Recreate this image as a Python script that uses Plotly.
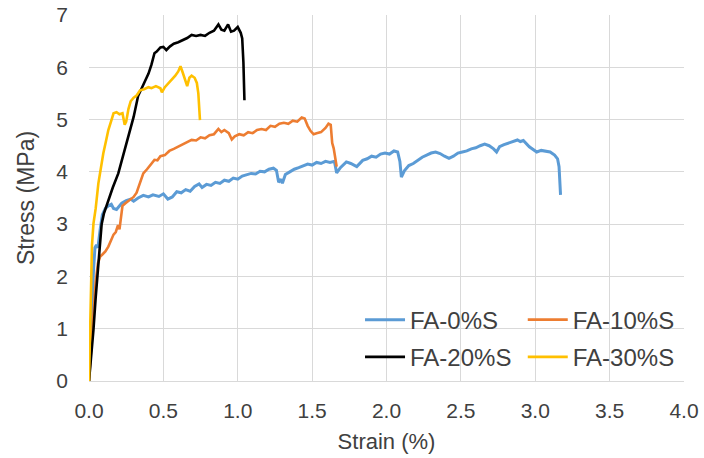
import plotly.graph_objects as go

# ---- data ----
fa0_strain = [0.000, 0.010, 0.020, 0.030, 0.040, 0.050, 0.060, 0.075, 0.090, 0.110, 0.130, 0.150, 0.165, 0.185,
              0.200, 0.220, 0.250, 0.280, 0.300, 0.330, 0.365, 0.400, 0.430, 0.470, 0.500, 0.530, 0.560, 0.590,
              0.620, 0.650, 0.680, 0.710, 0.740, 0.760, 0.790, 0.820, 0.850, 0.880, 0.910, 0.940, 0.970, 1.000,
              1.030, 1.060, 1.090, 1.120, 1.150, 1.180, 1.210, 1.240, 1.260, 1.275, 1.290, 1.300, 1.320, 1.350,
              1.380, 1.410, 1.440, 1.470, 1.500, 1.530, 1.560, 1.590, 1.620, 1.650, 1.665, 1.690, 1.730, 1.760,
              1.800, 1.840, 1.870, 1.900, 1.930, 1.960, 1.990, 2.020, 2.050, 2.075, 2.090, 2.100, 2.120, 2.150,
              2.180, 2.210, 2.240, 2.270, 2.300, 2.330, 2.360, 2.390, 2.420, 2.450, 2.480, 2.510, 2.540, 2.570,
              2.600, 2.630, 2.660, 2.690, 2.720, 2.740, 2.760, 2.790, 2.820, 2.850, 2.880, 2.900, 2.920, 2.960,
              2.990, 3.010, 3.040, 3.070, 3.100, 3.130, 3.150, 3.160, 3.165, 3.170]
fa0_stress = [0.00, 0.60, 1.40, 2.10, 2.55, 2.60, 2.55, 2.90, 3.18, 3.30, 3.35, 3.38, 3.30, 3.28,
              3.34, 3.40, 3.45, 3.48, 3.44, 3.50, 3.55, 3.52, 3.56, 3.53, 3.58, 3.48, 3.52, 3.62,
              3.60, 3.66, 3.63, 3.72, 3.77, 3.70, 3.76, 3.74, 3.80, 3.78, 3.84, 3.82, 3.88, 3.86,
              3.92, 3.95, 3.97, 3.96, 4.01, 4.00, 4.05, 4.07, 4.03, 3.80, 3.86, 3.78, 3.95, 4.00,
              4.05, 4.08, 4.12, 4.15, 4.13, 4.18, 4.16, 4.20, 4.18, 4.20, 3.98, 4.08, 4.19, 4.16,
              4.10, 4.22, 4.25, 4.30, 4.28, 4.34, 4.36, 4.34, 4.40, 4.38, 4.20, 3.90, 4.02, 4.12,
              4.16, 4.22, 4.28, 4.32, 4.36, 4.38, 4.35, 4.30, 4.26, 4.30, 4.36, 4.38, 4.40, 4.44,
              4.46, 4.50, 4.53, 4.50, 4.44, 4.38, 4.48, 4.52, 4.55, 4.57, 4.61, 4.58, 4.60, 4.48,
              4.42, 4.38, 4.41, 4.40, 4.38, 4.32, 4.25, 4.10, 3.85, 3.56]

fa10_strain = [0.000, 0.015, 0.030, 0.045, 0.060, 0.075, 0.090, 0.110, 0.130, 0.150, 0.165, 0.180, 0.195, 0.205,
               0.215, 0.225, 0.245, 0.270, 0.300, 0.320, 0.345, 0.365, 0.390, 0.420, 0.440, 0.460, 0.480, 0.510,
               0.540, 0.570, 0.600, 0.630, 0.660, 0.690, 0.720, 0.750, 0.780, 0.810, 0.840, 0.870, 0.890, 0.910,
               0.940, 0.960, 0.980, 1.010, 1.040, 1.070, 1.100, 1.130, 1.160, 1.190, 1.220, 1.250, 1.280, 1.310,
               1.340, 1.370, 1.400, 1.430, 1.450, 1.470, 1.490, 1.510, 1.530, 1.560, 1.590, 1.610, 1.625, 1.635,
               1.645, 1.655, 1.665]
fa10_stress = [0.00, 0.60, 1.30, 1.90, 2.25, 2.38, 2.42, 2.48, 2.57, 2.70, 2.80, 2.85, 2.98, 2.90,
               3.20, 3.35, 3.40, 3.45, 3.52, 3.60, 3.80, 3.97, 4.05, 4.15, 4.23, 4.22, 4.30, 4.32,
               4.40, 4.44, 4.48, 4.52, 4.56, 4.61, 4.60, 4.66, 4.64, 4.70, 4.72, 4.82, 4.76, 4.80,
               4.74, 4.62, 4.68, 4.72, 4.70, 4.76, 4.74, 4.80, 4.82, 4.80, 4.88, 4.86, 4.92, 4.94,
               4.92, 4.98, 4.96, 5.04, 5.02, 4.88, 4.78, 4.72, 4.74, 4.76, 4.84, 4.92, 4.90, 4.55,
               4.45, 4.30, 4.10]

fa20_strain = [0.000, 0.015, 0.030, 0.045, 0.063, 0.085, 0.100, 0.130, 0.160, 0.197, 0.230, 0.265, 0.300, 0.330,
               0.365, 0.400, 0.420, 0.440, 0.455, 0.480, 0.500, 0.520, 0.545, 0.570, 0.600, 0.630, 0.660, 0.690,
               0.720, 0.750, 0.780, 0.810, 0.840, 0.870, 0.890, 0.910, 0.935, 0.955, 0.975, 1.000, 1.020, 1.030,
               1.038, 1.045]
fa20_stress = [0.00, 0.45, 0.98, 1.60, 2.31, 3.00, 3.20, 3.46, 3.70, 3.97, 4.30, 4.70, 5.05, 5.45,
               5.65, 5.88, 6.05, 6.27, 6.30, 6.38, 6.39, 6.33, 6.40, 6.45, 6.48, 6.52, 6.56, 6.62,
               6.60, 6.62, 6.60, 6.66, 6.70, 6.82, 6.72, 6.70, 6.82, 6.68, 6.70, 6.77, 6.66, 6.55,
               6.10, 5.37]

fa30_strain = [0.000, 0.008, 0.015, 0.020, 0.030, 0.045, 0.063, 0.080, 0.096, 0.115, 0.130, 0.150, 0.165, 0.185,
               0.205, 0.225, 0.240, 0.250, 0.265, 0.280, 0.300, 0.320, 0.343, 0.370, 0.400, 0.420, 0.450, 0.480,
               0.490, 0.510, 0.530, 0.560, 0.580, 0.600, 0.615, 0.630, 0.650, 0.660, 0.675, 0.690, 0.710, 0.725,
               0.735, 0.742, 0.746]
fa30_stress = [0.00, 1.00, 2.00, 2.60, 3.01, 3.30, 3.78, 4.10, 4.35, 4.60, 4.80, 4.98, 5.12, 5.14,
               5.10, 5.12, 4.90, 4.96, 5.20, 5.35, 5.42, 5.46, 5.56, 5.58, 5.62, 5.60, 5.64, 5.60,
               5.52, 5.62, 5.68, 5.76, 5.84, 5.92, 6.02, 5.90, 5.72, 5.64, 5.80, 5.84, 5.80, 5.70,
               5.50, 5.20, 4.99]

series_names = ["FA-0%S", "FA-10%S", "FA-20%S", "FA-30%S"]
series_colors = ["#5B9BD5", "#ED7D31", "#000000", "#FFC000"]

x_ticks = [0.0, 0.5, 1.0, 1.5, 2.0, 2.5, 3.0, 3.5, 4.0]
x_tick_labels = ["0.0", "0.5", "1.0", "1.5", "2.0", "2.5", "3.0", "3.5", "4.0"]
y_ticks = [0, 1, 2, 3, 4, 5, 6, 7]

FONT = "Liberation Sans, Arial, sans-serif"
TXT = "#404040"

fig = go.Figure()
data = [(fa0_strain, fa0_stress, 3.0, "legend"),
        (fa10_strain, fa10_stress, 2.6, "legend2"),
        (fa20_strain, fa20_stress, 2.6, "legend"),
        (fa30_strain, fa30_stress, 2.6, "legend2")]
for i, (xs, ys, w, lg) in enumerate(data):
    fig.add_trace(go.Scatter(x=xs, y=ys, mode="lines", name=series_names[i],
                             line=dict(color=series_colors[i], width=w),
                             legend=lg, legendgroup=series_names[i]))

leg_common = dict(orientation="v", xanchor="left", yanchor="top",
                  bgcolor="rgba(0,0,0,0)", font=dict(family=FONT, size=24, color=TXT),
                  tracegroupgap=3, traceorder="grouped", itemwidth=40)

fig.update_layout(
    width=704, height=458,
    margin=dict(l=89, r=20, t=15, b=77),
    paper_bgcolor="white", plot_bgcolor="white",
    font=dict(family=FONT, color=TXT),
    legend=dict(x=0.4555, y=0.228, **leg_common),
    legend2=dict(x=0.729, y=0.228, **leg_common),
    xaxis=dict(range=[0, 4], tickvals=x_ticks, ticktext=x_tick_labels, automargin=False,
               showgrid=True, gridcolor="#D9D9D9", gridwidth=1,
               zeroline=False, showline=True, linecolor="#D9D9D9", linewidth=1,
               ticks="", tickfont=dict(family=FONT, size=21, color=TXT),
               ticklabelstandoff=11,
               title=dict(text="Strain (%)", font=dict(family=FONT, size=22, color=TXT), standoff=12)),
    yaxis=dict(range=[0, 7], tickvals=y_ticks, automargin=False,
               showgrid=True, gridcolor="#D9D9D9", gridwidth=1,
               zeroline=False, showline=False,
               ticks="", tickfont=dict(family=FONT, size=21, color=TXT),
               ticklabelstandoff=20,
               title=dict(text="Stress (MPa)", font=dict(family=FONT, size=23, color=TXT), standoff=15)),
)

fig.write_html("out.html", config={"displayModeBar": False},
               post_script="document.body.style.margin='0';")
